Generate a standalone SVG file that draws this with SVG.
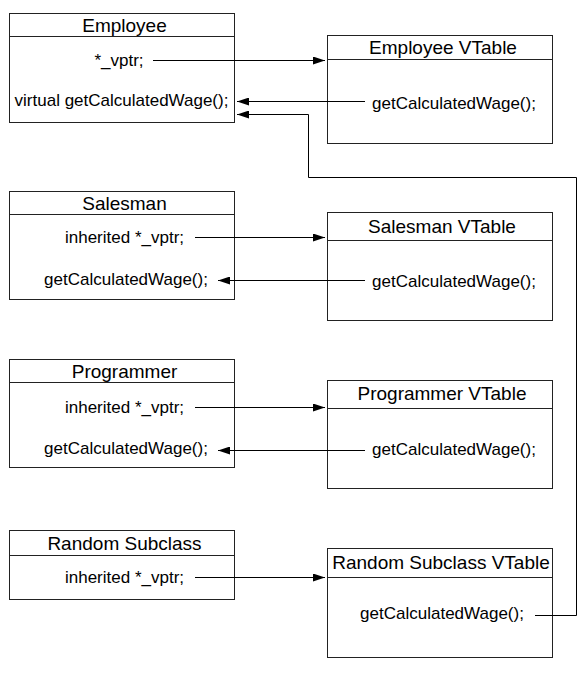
<svg xmlns="http://www.w3.org/2000/svg" width="586" height="681" viewBox="0 0 586 681">
<defs>
<marker id="ah" viewBox="0 0 12 8" refX="12" refY="4" markerWidth="12" markerHeight="8" markerUnits="userSpaceOnUse" orient="auto"><path d="M0,0 L12,4 L0,8 z" fill="#000"/></marker>
<style>
.box{fill:#fff;stroke:#222;stroke-width:1}
.hl{stroke:#222;stroke-width:1}
.t{font-family:"Liberation Sans",Arial,sans-serif;font-size:19px;fill:#000;text-anchor:middle}
.b{font-family:"Liberation Sans",Arial,sans-serif;font-size:17px;fill:#000;text-anchor:middle}
.c{fill:none;stroke:#000;stroke-width:1;marker-end:url(#ah)}
.n{fill:none;stroke:#000;stroke-width:1}
</style>
</defs>
<rect width="586" height="681" fill="#fff"/>
<g id="employee">
<rect class="box" x="9.5" y="13.5" width="225" height="109"/>
<line class="hl" x1="9.5" y1="36.5" x2="234.5" y2="36.5"/>
<text class="t" x="124.5" y="32">Employee</text>
<text class="b" x="119" y="66">*_vptr;</text>
<text class="b" x="121.5" y="106">virtual getCalculatedWage();</text>
</g>
<g id="employee-vtable">
<rect class="box" x="327.5" y="35.5" width="225" height="108"/>
<line class="hl" x1="327.5" y1="59.5" x2="552.5" y2="59.5"/>
<text class="t" x="443" y="54">Employee VTable</text>
<text class="b" x="454" y="109">getCalculatedWage();</text>
</g>
<g id="salesman">
<rect class="box" x="9.5" y="191.5" width="225" height="108"/>
<line class="hl" x1="9.5" y1="214.5" x2="234.5" y2="214.5"/>
<text class="t" x="124.5" y="210">Salesman</text>
<text class="b" x="124.5" y="243">inherited *_vptr;</text>
<text class="b" x="126" y="285">getCalculatedWage();</text>
</g>
<g id="salesman-vtable">
<rect class="box" x="327.5" y="212.5" width="225" height="108"/>
<line class="hl" x1="327.5" y1="240.5" x2="552.5" y2="240.5"/>
<text class="t" x="442" y="233">Salesman VTable</text>
<text class="b" x="454" y="287">getCalculatedWage();</text>
</g>
<g id="programmer">
<rect class="box" x="9.5" y="359.5" width="225" height="108"/>
<line class="hl" x1="9.5" y1="382.5" x2="234.5" y2="382.5"/>
<text class="t" x="124.5" y="378">Programmer</text>
<text class="b" x="124.5" y="413">inherited *_vptr;</text>
<text class="b" x="126" y="454">getCalculatedWage();</text>
</g>
<g id="programmer-vtable">
<rect class="box" x="327.5" y="380.5" width="225" height="108"/>
<line class="hl" x1="327.5" y1="408.5" x2="552.5" y2="408.5"/>
<text class="t" x="442" y="400">Programmer VTable</text>
<text class="b" x="454" y="455">getCalculatedWage();</text>
</g>
<g id="random-subclass">
<rect class="box" x="9.5" y="530.5" width="225" height="69"/>
<line class="hl" x1="9.5" y1="555.5" x2="234.5" y2="555.5"/>
<text class="t" x="124.5" y="550">Random Subclass</text>
<text class="b" x="124.5" y="583">inherited *_vptr;</text>
</g>
<g id="random-subclass-vtable">
<rect class="box" x="327.5" y="548.5" width="225" height="109"/>
<line class="hl" x1="327.5" y1="577.5" x2="552.5" y2="577.5"/>
<text class="t" x="441" y="569">Random Subclass VTable</text>
<text class="b" x="442" y="619">getCalculatedWage();</text>
</g>
<g id="connectors">
<path class="c" d="M153,60.5 H325"/>
<path class="c" d="M365,101.5 H237"/>
<path class="c" d="M535,615.5 H576.5 V177.5 H308.5 V114.5 H237"/>
<path class="c" d="M195,237.5 H325"/>
<path class="c" d="M365,280.5 H218"/>
<path class="c" d="M195,407.5 H325"/>
<path class="c" d="M365,450.5 H218"/>
<path class="c" d="M195,577.5 H325"/>
</g>
</svg>
